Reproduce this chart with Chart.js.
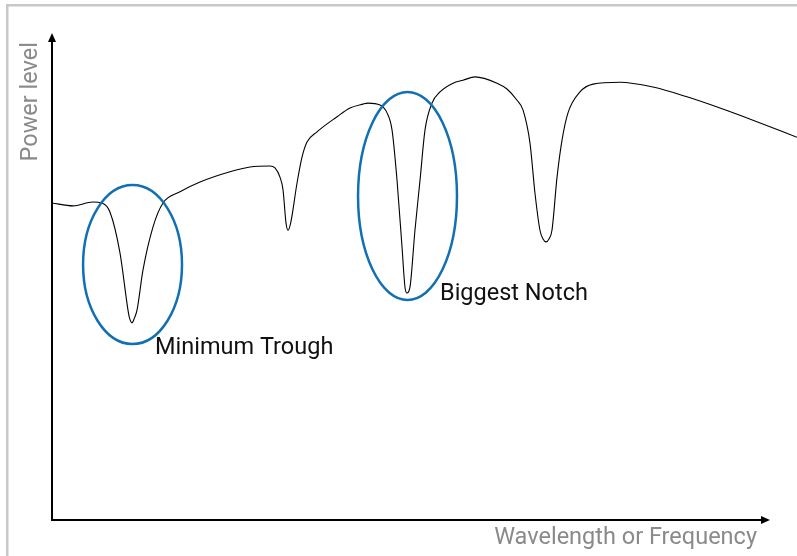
<!DOCTYPE html>
<html>
<head>
<meta charset="utf-8">
<script src="https://cdn.jsdelivr.net/npm/chart.js@4"></script>
<style>
  html, body { margin: 0; padding: 0; background: #fff; }
  #c { display: block; }
</style>
</head>
<body>
<canvas id="c" width="797" height="556"></canvas>
<script>
// Normalized wavelength (0-100) and power level (0-100)
const wavelength = [0, 2.82, 5.50, 6.71, 7.79, 9.13, 10.20, 10.40, 10.74, 11.07, 11.41, 12.21, 13.56, 14.90, 17.18, 19.87, 23.89, 26.58, 29.26, 29.93, 30.60, 31.01, 31.41, 31.68, 32.04, 32.89, 33.56, 34.23, 35.57, 38.26, 40.00, 41.74, 42.42, 44.03, 44.97, 45.64, 46.31, 46.98, 47.38, 47.65, 48.05, 48.72, 49.40, 50.07, 51.01, 52.08, 53.83, 55.17, 56.78, 59.73, 61.07, 62.42, 63.22, 64.16, 64.83, 65.50, 65.91, 66.31, 66.71, 67.11, 67.79, 68.46, 69.26, 70.87, 72.62, 76.24, 80.67, 85.23, 89.66, 94.09, 100];
const power = [65.1, 64.5, 65.3, 65.1, 63.2, 54.8, 43.1, 41.5, 40.5, 41.5, 43.1, 51.3, 60.2, 65.1, 67.4, 69.4, 71.5, 72.5, 72.7, 72.3, 70.4, 67.8, 61.0, 59.5, 61.0, 69.2, 74.5, 77.6, 79.7, 82.8, 84.6, 85.4, 85.6, 85.2, 83.6, 80.1, 69.8, 56.1, 47.8, 46.6, 47.8, 59.5, 69.8, 80.1, 85.6, 87.9, 89.7, 90.3, 91.0, 89.7, 88.5, 86.2, 84.2, 77.4, 67.1, 59.5, 57.7, 57.1, 57.7, 59.5, 70.4, 78.0, 83.6, 87.9, 89.5, 89.9, 88.9, 86.9, 84.6, 82.1, 78.6];

// Annotations (data units)
const annotationLabels = ["Minimum Trough", "Biggest Notch"];
const labelX = [13.83, 52.08];
const labelY = [34.1, 45.2];
const ellipseCX = [10.81, 47.72];
const ellipseCY = [52.46, 66.53];
const ellipseRX = [6.64, 6.64];
const ellipseRY = [16.32, 21.36];

const xAxisTitle = "Wavelength or Frequency";
const yAxisTitle = "Power level";
const xAxisEnd = 96.38;

const points = wavelength.map((x, i) => ({ x: x, y: power[i] }));

const overlay = {
  id: 'overlay',
  beforeDraw(chart) {
    const ctx = chart.ctx;
    ctx.save();
    ctx.fillStyle = '#fff';
    ctx.fillRect(0, 0, chart.width, chart.height);
    ctx.fillStyle = '#c8c8c8';
    ctx.fillRect(6, 4, chart.width - 6, 2.5);
    ctx.fillRect(6, 4, 2.5, chart.height - 4);
    ctx.restore();
  },
  afterDatasetsDraw(chart) {
    const ctx = chart.ctx;
    const xs = chart.scales.x, ys = chart.scales.y;
    ctx.save();
    // Ellipses
    ctx.strokeStyle = '#1170b4';
    ctx.lineWidth = 2.5;
    for (let i = 0; i < ellipseCX.length; i++) {
      const cx = xs.getPixelForValue(ellipseCX[i]);
      const cy = ys.getPixelForValue(ellipseCY[i]);
      const rx = Math.abs(xs.getPixelForValue(ellipseCX[i] + ellipseRX[i]) - cx);
      const ry = Math.abs(ys.getPixelForValue(ellipseCY[i] + ellipseRY[i]) - cy);
      ctx.beginPath();
      ctx.ellipse(cx, cy, rx, ry, 0, 0, Math.PI * 2);
      ctx.stroke();
    }
    // Labels
    ctx.fillStyle = '#111';
    ctx.font = '23.5px Roboto';
    ctx.textAlign = 'left';
    ctx.textBaseline = 'alphabetic';
    for (let i = 0; i < annotationLabels.length; i++) {
      ctx.fillText(annotationLabels[i], xs.getPixelForValue(labelX[i]), ys.getPixelForValue(labelY[i]));
    }
    // Axes with arrows
    const x0 = xs.getPixelForValue(0), y0 = ys.getPixelForValue(0);
    const xEnd = xs.getPixelForValue(xAxisEnd), yEnd = ys.getPixelForValue(100);
    ctx.strokeStyle = '#000';
    ctx.fillStyle = '#000';
    ctx.lineWidth = 2;
    ctx.beginPath();
    ctx.moveTo(x0, y0); ctx.lineTo(x0, yEnd + 6);
    ctx.moveTo(x0 - 1, y0); ctx.lineTo(xEnd - 6, y0);
    ctx.stroke();
    ctx.beginPath();
    ctx.moveTo(x0, yEnd); ctx.lineTo(x0 - 4, yEnd + 9); ctx.lineTo(x0 + 4, yEnd + 9); ctx.closePath();
    ctx.fill();
    ctx.beginPath();
    ctx.moveTo(xEnd, y0); ctx.lineTo(xEnd - 9, y0 - 4); ctx.lineTo(xEnd - 9, y0 + 4); ctx.closePath();
    ctx.fill();
    // Axis titles
    ctx.fillStyle = '#8a8a8a';
    ctx.font = '23.5px Roboto';
    ctx.textAlign = 'right';
    ctx.textBaseline = 'middle';
    ctx.fillText(xAxisTitle, 757, y0 + 18);
    ctx.translate(x0 - 21, 42);
    ctx.rotate(-Math.PI / 2);
    ctx.textAlign = 'right';
    ctx.fillText(yAxisTitle, 0, 0);
    ctx.restore();
  }
};

new Chart(document.getElementById('c'), {
  type: 'line',
  data: {
    datasets: [{
      data: points,
      borderColor: '#000',
      borderWidth: 1.1,
      pointRadius: 0,
      fill: false,
      cubicInterpolationMode: 'monotone'
    }]
  },
  options: {
    responsive: false,
    animation: false,
    devicePixelRatio: 1,
    layout: { padding: { left: 52, right: 0, top: 33, bottom: 36 } },
    scales: {
      x: { type: 'linear', min: 0, max: 100, display: false },
      y: { type: 'linear', min: 0, max: 100, display: false }
    },
    plugins: { legend: { display: false }, tooltip: { enabled: false } }
  },
  plugins: [overlay]
});
</script>
</body>
</html>
